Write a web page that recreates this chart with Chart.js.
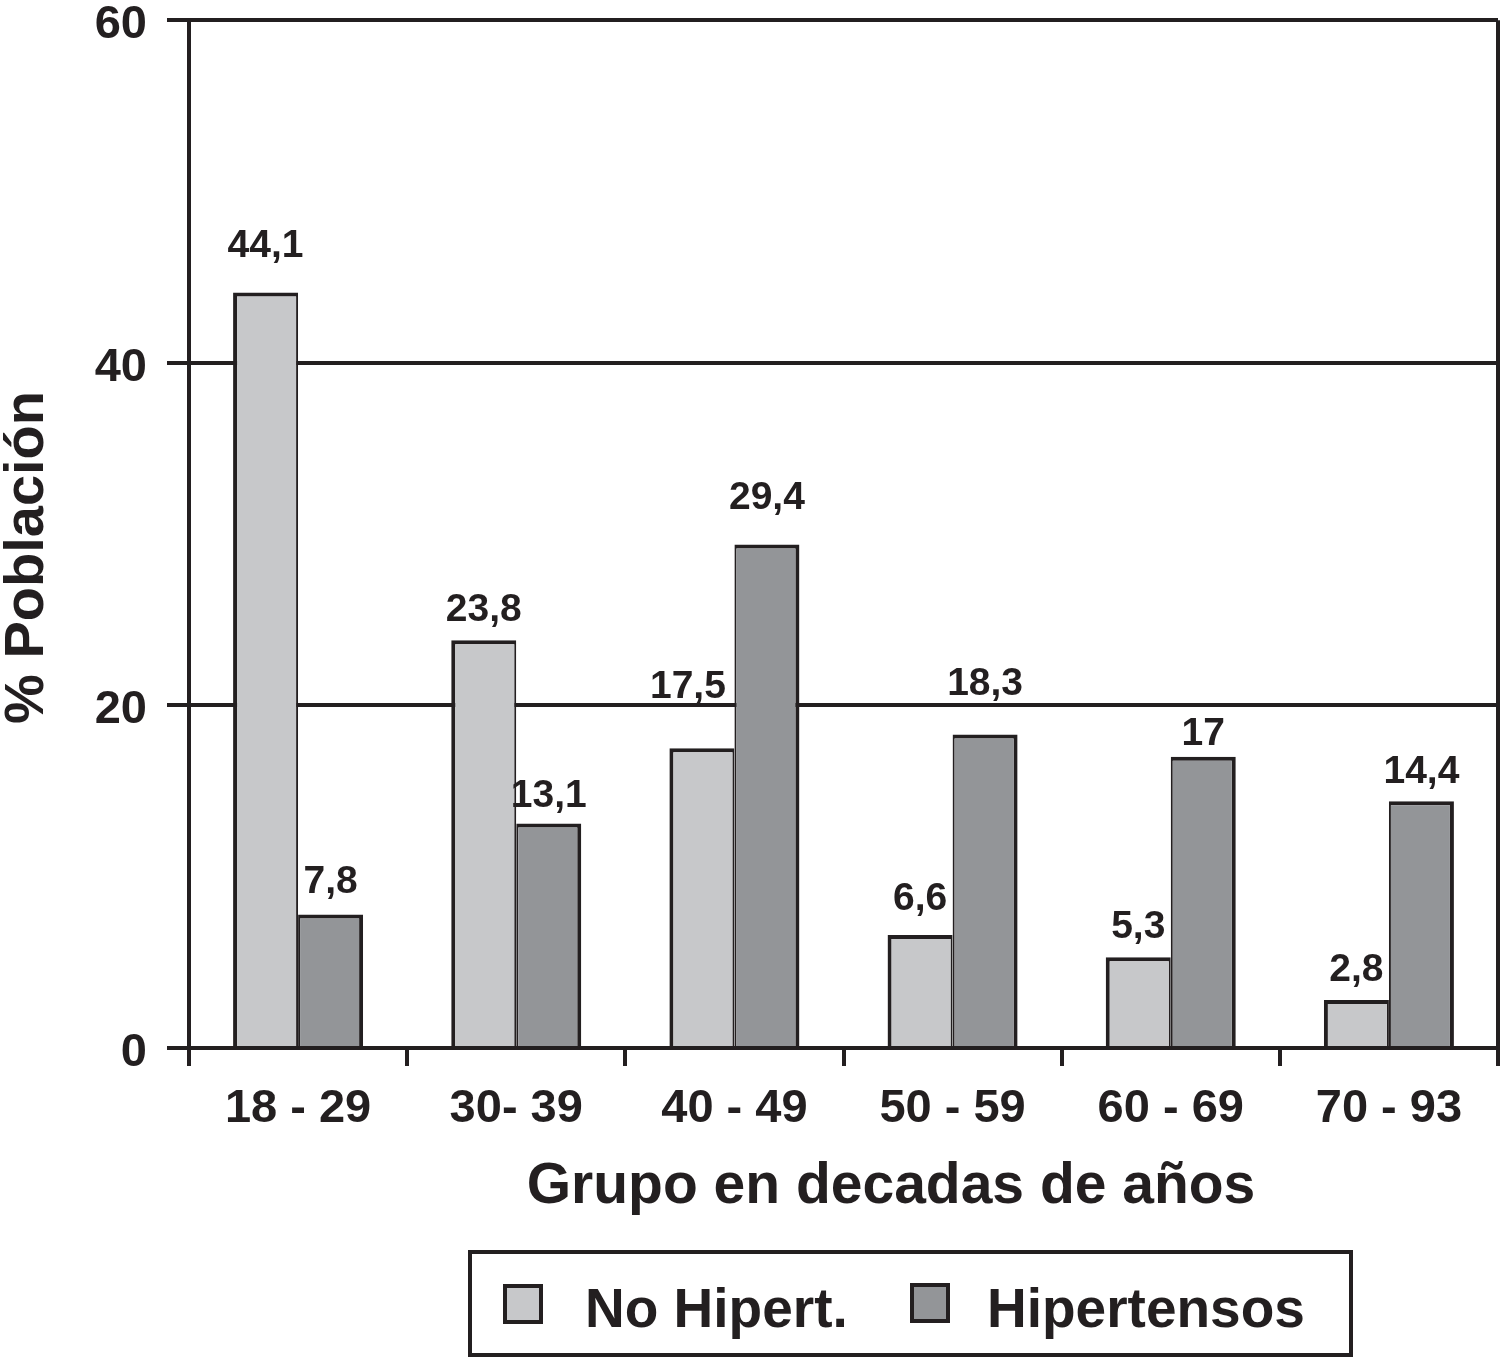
<!DOCTYPE html>
<html lang="es">
<head>
    <meta charset="UTF-8">
    <title>% Población por grupo de edad</title>
    <style>
        body {
            margin: 0;
            background: #fff;
            font-family: "Liberation Sans", Arial, sans-serif;
        }
        .wrap {
            position: relative;
            width: 1502px;
            height: 1360px;
        }
        #chart {
            position: absolute;
            left: 0;
            top: 0;
        }
        .legend {
            position: absolute;
            left: 468px;
            top: 1250px;
            width: 877px;
            height: 99px;
            border: 4px solid #231f20;
            color: #231f20;
            font-weight: bold;
            font-size: 55px;
        }
        .legend .sw {
            position: absolute;
            width: 32px;
            height: 32px;
            border: 4px solid #231f20;
        }
        .legend .lbl {
            position: absolute;
            line-height: 1;
            white-space: nowrap;
        }
    </style>
</head>
<body>
    <div class="wrap">
        <canvas id="chart" width="1502" height="1360"></canvas>
        <div class="legend">
            <div class="sw" style="left:31px; top:30px; background:#c7c8ca;"></div>
            <div class="lbl" style="left:113px; top:27px;">No Hipert.</div>
            <div class="sw" style="left:438px; top:29px; background:#939598;"></div>
            <div class="lbl" style="left:515px; top:27px;">Hipertensos</div>
        </div>
    </div>

    <script src="https://cdn.jsdelivr.net/npm/chart.js"></script>
    <script>
        const ageGroups = ['18 - 29', '30- 39', '40 - 49', '50 - 59', '60 - 69', '70 - 93'];
        const noHipert = [44.1, 23.8, 17.5, 6.6, 5.3, 2.8];
        const hipertensos = [7.8, 13.1, 29.4, 18.3, 17, 14.4];
        const yTicks = [0, 20, 40, 60];

        const ink = '#231f20';
        const fontFamily = '"Liberation Sans", Arial, sans-serif';
        const nb = '\u00a0';

        // how far each value label sits above its bar (the original places them by hand)
        const labelLift = [
            { gap: [36, 19, 50, 25, 19, 19], dx: [0, 0, -14, 0, 0, 0] },
            { gap: [21, 17, 35, 40, 12, 18], dx: [0, 0, 0, 0, 0, 0] }
        ];

        const valueLabels = {
            id: 'valueLabels',
            afterDatasetsDraw(chart) {
                const ctx = chart.ctx;
                ctx.save();
                ctx.fillStyle = ink;
                ctx.font = 'bold 39px ' + fontFamily;
                ctx.textAlign = 'center';
                ctx.textBaseline = 'alphabetic';
                chart.data.datasets.forEach((ds, di) => {
                    const meta = chart.getDatasetMeta(di);
                    meta.data.forEach((bar, i) => {
                        const txt = String(ds.data[i]).replace('.', ',');
                        ctx.fillText(txt, bar.x + labelLift[di].dx[i], bar.y - labelLift[di].gap[i]);
                    });
                });
                ctx.restore();
            }
        };

        new Chart(document.getElementById('chart'), {
            type: 'bar',
            data: {
                labels: ageGroups,
                datasets: [{
                    label: 'No Hipert.',
                    data: noHipert,
                    backgroundColor: '#c7c8ca',
                    borderColor: ink,
                    borderWidth: { top: 4, left: 4, right: 2, bottom: 0 },
                    categoryPercentage: 0.596,
                    barPercentage: 1
                }, {
                    label: 'Hipertensos',
                    data: hipertensos,
                    backgroundColor: '#939598',
                    borderColor: ink,
                    borderWidth: { top: 4, left: 2, right: 4, bottom: 0 },
                    categoryPercentage: 0.596,
                    barPercentage: 1
                }]
            },
            options: {
                responsive: false,
                devicePixelRatio: 1,
                animation: false,
                layout: { padding: { left: 0, right: 4, top: 20, bottom: 137 } },
                plugins: {
                    legend: { display: false },
                    tooltip: { enabled: false }
                },
                scales: {
                    x: {
                        ticks: {
                            color: ink,
                            padding: 20,
                            font: { family: fontFamily, size: 47, weight: 'bold', lineHeight: 1 }
                        },
                        grid: {
                            offset: true,
                            color: c => (c.index === undefined || c.index === 0) ? ink : 'rgba(0,0,0,0)',
                            lineWidth: 4,
                            tickLength: 18,
                            tickColor: ink,
                            tickWidth: 4
                        },
                        border: { display: true, color: ink, width: 4 },
                        title: {
                            display: true,
                            // leading spaces push the centred title right, as in the original
                            text: nb.repeat(6) + 'Grupo en decadas de años',
                            color: ink,
                            font: { family: fontFamily, size: 57, weight: 'bold', lineHeight: 1 },
                            padding: { top: 0, bottom: 7 }
                        },
                        afterFit: s => { s.height = 175; }
                    },
                    y: {
                        min: 0,
                        max: 60,
                        afterBuildTicks: s => { s.ticks = yTicks.map(v => ({ value: v })); },
                        ticks: {
                            color: ink,
                            padding: 20,
                            labelOffset: 5,
                            // tiny line height so the top label does not push the plot down
                            font: { family: fontFamily, size: 47, weight: 'bold', lineHeight: 0.01 }
                        },
                        grid: {
                            color: ink,
                            lineWidth: 4,
                            tickLength: 22,
                            tickColor: ink,
                            tickWidth: 4
                        },
                        border: { display: true, color: ink, width: 4 },
                        title: {
                            display: true,
                            text: '% Población' + nb.repeat(3),
                            color: ink,
                            font: { family: fontFamily, size: 56, weight: 'bold', lineHeight: 1 },
                            padding: { top: 0, bottom: 0 }
                        },
                        afterFit: s => { s.width = 189; }
                    }
                }
            },
            plugins: [valueLabels]
        });
    </script>
</body>
</html>
